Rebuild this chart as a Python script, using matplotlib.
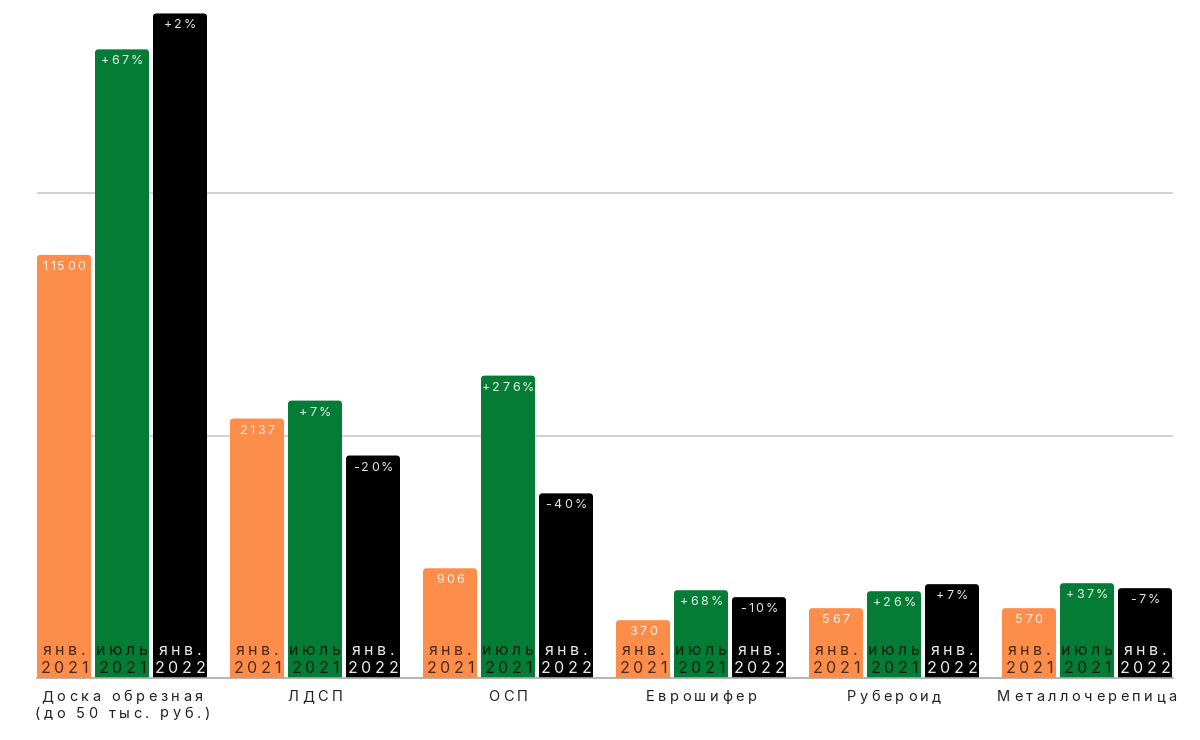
import matplotlib
matplotlib.use("Agg")
import matplotlib.pyplot as plt
import numpy as np
from matplotlib.patches import FancyBboxPatch, BoxStyle
from matplotlib.ft2font import FT2Font
from matplotlib.font_manager import findfont, FontProperties

# ---------------- data ----------------
categories = ['Доска обрезная\n(до 50 тыс. руб.)', 'ЛДСП', 'ОСП',
              'Еврошифер', 'Рубероид', 'Металлочерепица']
period_month = ['янв.', 'июль', 'янв.']
period_year = ['2021', '2021', '2022']
# bar heights as drawn (chart units; gridlines at 2000 and 4000)
heights_jan21 = [3490, 2140, 905, 477, 576, 576]
heights_jul21 = [5185, 2288, 2494, 724, 716, 782]
heights_jan22 = [5481, 1835, 1523, 667, 774, 741]
labels_jan21 = ['11500', '2137', '906', '370', '567', '570']
labels_jul21 = ['+67%', '+7%', '+276%', '+68%', '+26%', '+37%']
labels_jan22 = ['+2%', '-20%', '-40%', '-10%', '+7%', '-7%']

series_heights = [heights_jan21, heights_jul21, heights_jan22]
series_labels = [labels_jan21, labels_jul21, labels_jan22]
colors = ['#FD8D4B', '#047C35', '#000000']
top_text = [('white', 0.88), ('white', 0.92), ('white', 0.9)]
bottom_text = [('black', 0.7), ('black', 0.72), ('white', 0.92)]

FONT = 'Inter'
DPI = 100

fig = plt.figure(figsize=(12, 7.4), dpi=DPI)
ax = fig.add_axes([37 / 1200, (740 - 678) / 740, (1173 - 37) / 1200, 678 / 740])

x = np.arange(len(categories))
pitch = 58 / 193
width = 54 / 193
ax.set_xlim(-0.4404, 5.4456)
ax.set_ylim(0, 5592)

ax.set_yticks([2000, 4000])
ax.yaxis.grid(True, color='#cfcfcf', linewidth=1.3, zorder=0)
ax.set_axisbelow(True)
ax.tick_params(left=False, bottom=False, labelleft=False, labelbottom=False)
for s in ['top', 'right', 'left']:
    ax.spines[s].set_visible(False)
ax.spines['bottom'].set_color('#a8a8a8')
ax.spines['bottom'].set_linewidth(1.2)
ax.set_xticks([])

# data-per-pixel values
x_per_px = (ax.get_xlim()[1] - ax.get_xlim()[0]) / (1136)
y_per_px = (ax.get_ylim()[1] - ax.get_ylim()[0]) / (678)
aspect = y_per_px / x_per_px

_font_cache = {}


def advances(s, size):
    key = (FONT, size)
    if key not in _font_cache:
        f = FT2Font(findfont(FontProperties(family=FONT)))
        f.set_size(size, DPI)
        _font_cache[key] = f
    f = _font_cache[key]
    out = []
    for ch in s:
        g = f.load_char(ord(ch))
        out.append(g.linearHoriAdvance / 65536.0)
    return out


def spaced(xd, yd, s, dy, size, spacing, color, alpha=1.0, va='baseline'):
    adv = advances(s, size)
    total = sum(adv) + spacing * (len(s) - 1)
    pen = -total / 2
    for ch, a in zip(s, adv):
        if ch != ' ':
            ax.annotate(ch, (xd, yd), xytext=(pen + a / 2, dy),
                        textcoords='offset pixels', ha='center', va=va,
                        fontsize=size, family=FONT, color=color, alpha=alpha,
                        annotation_clip=False, zorder=5)
        pen += a + spacing


for i, (hs, labs) in enumerate(zip(series_heights, series_labels)):
    pos = x + (i - 1) * pitch
    bars = ax.bar(pos, hs, width=width, color=colors[i], zorder=2)
    for rect, lab in zip(bars, labs):
        bx, bw, bh = rect.get_x(), rect.get_width(), rect.get_height()
        rect.set_visible(False)
        pad = 10 * y_per_px
        patch = FancyBboxPatch((bx, -pad), bw, bh + pad,
                               boxstyle=BoxStyle.Round(pad=0, rounding_size=3.5 * x_per_px),
                               mutation_aspect=aspect, facecolor=colors[i],
                               edgecolor='none', zorder=2)
        ax.add_patch(patch)
        cx = bx + bw / 2
        spaced(cx, bh, lab, -15, 9, 2.3, top_text[i][0], top_text[i][1])
        spaced(cx, 0, period_month[i], 23, 11.5, 3.6, bottom_text[i][0], bottom_text[i][1])
        spaced(cx, 0, period_year[i], 5, 11.5, 3.8, bottom_text[i][0], bottom_text[i][1])

# category labels
for xc, cat in zip(x, categories):
    for k, line in enumerate(cat.split('\n')):
        spaced(xc, 0, line, -23 - 16.5 * k, 10.5, 3.5, '#222222')

fig.savefig('out.png', dpi=DPI, facecolor='white')
